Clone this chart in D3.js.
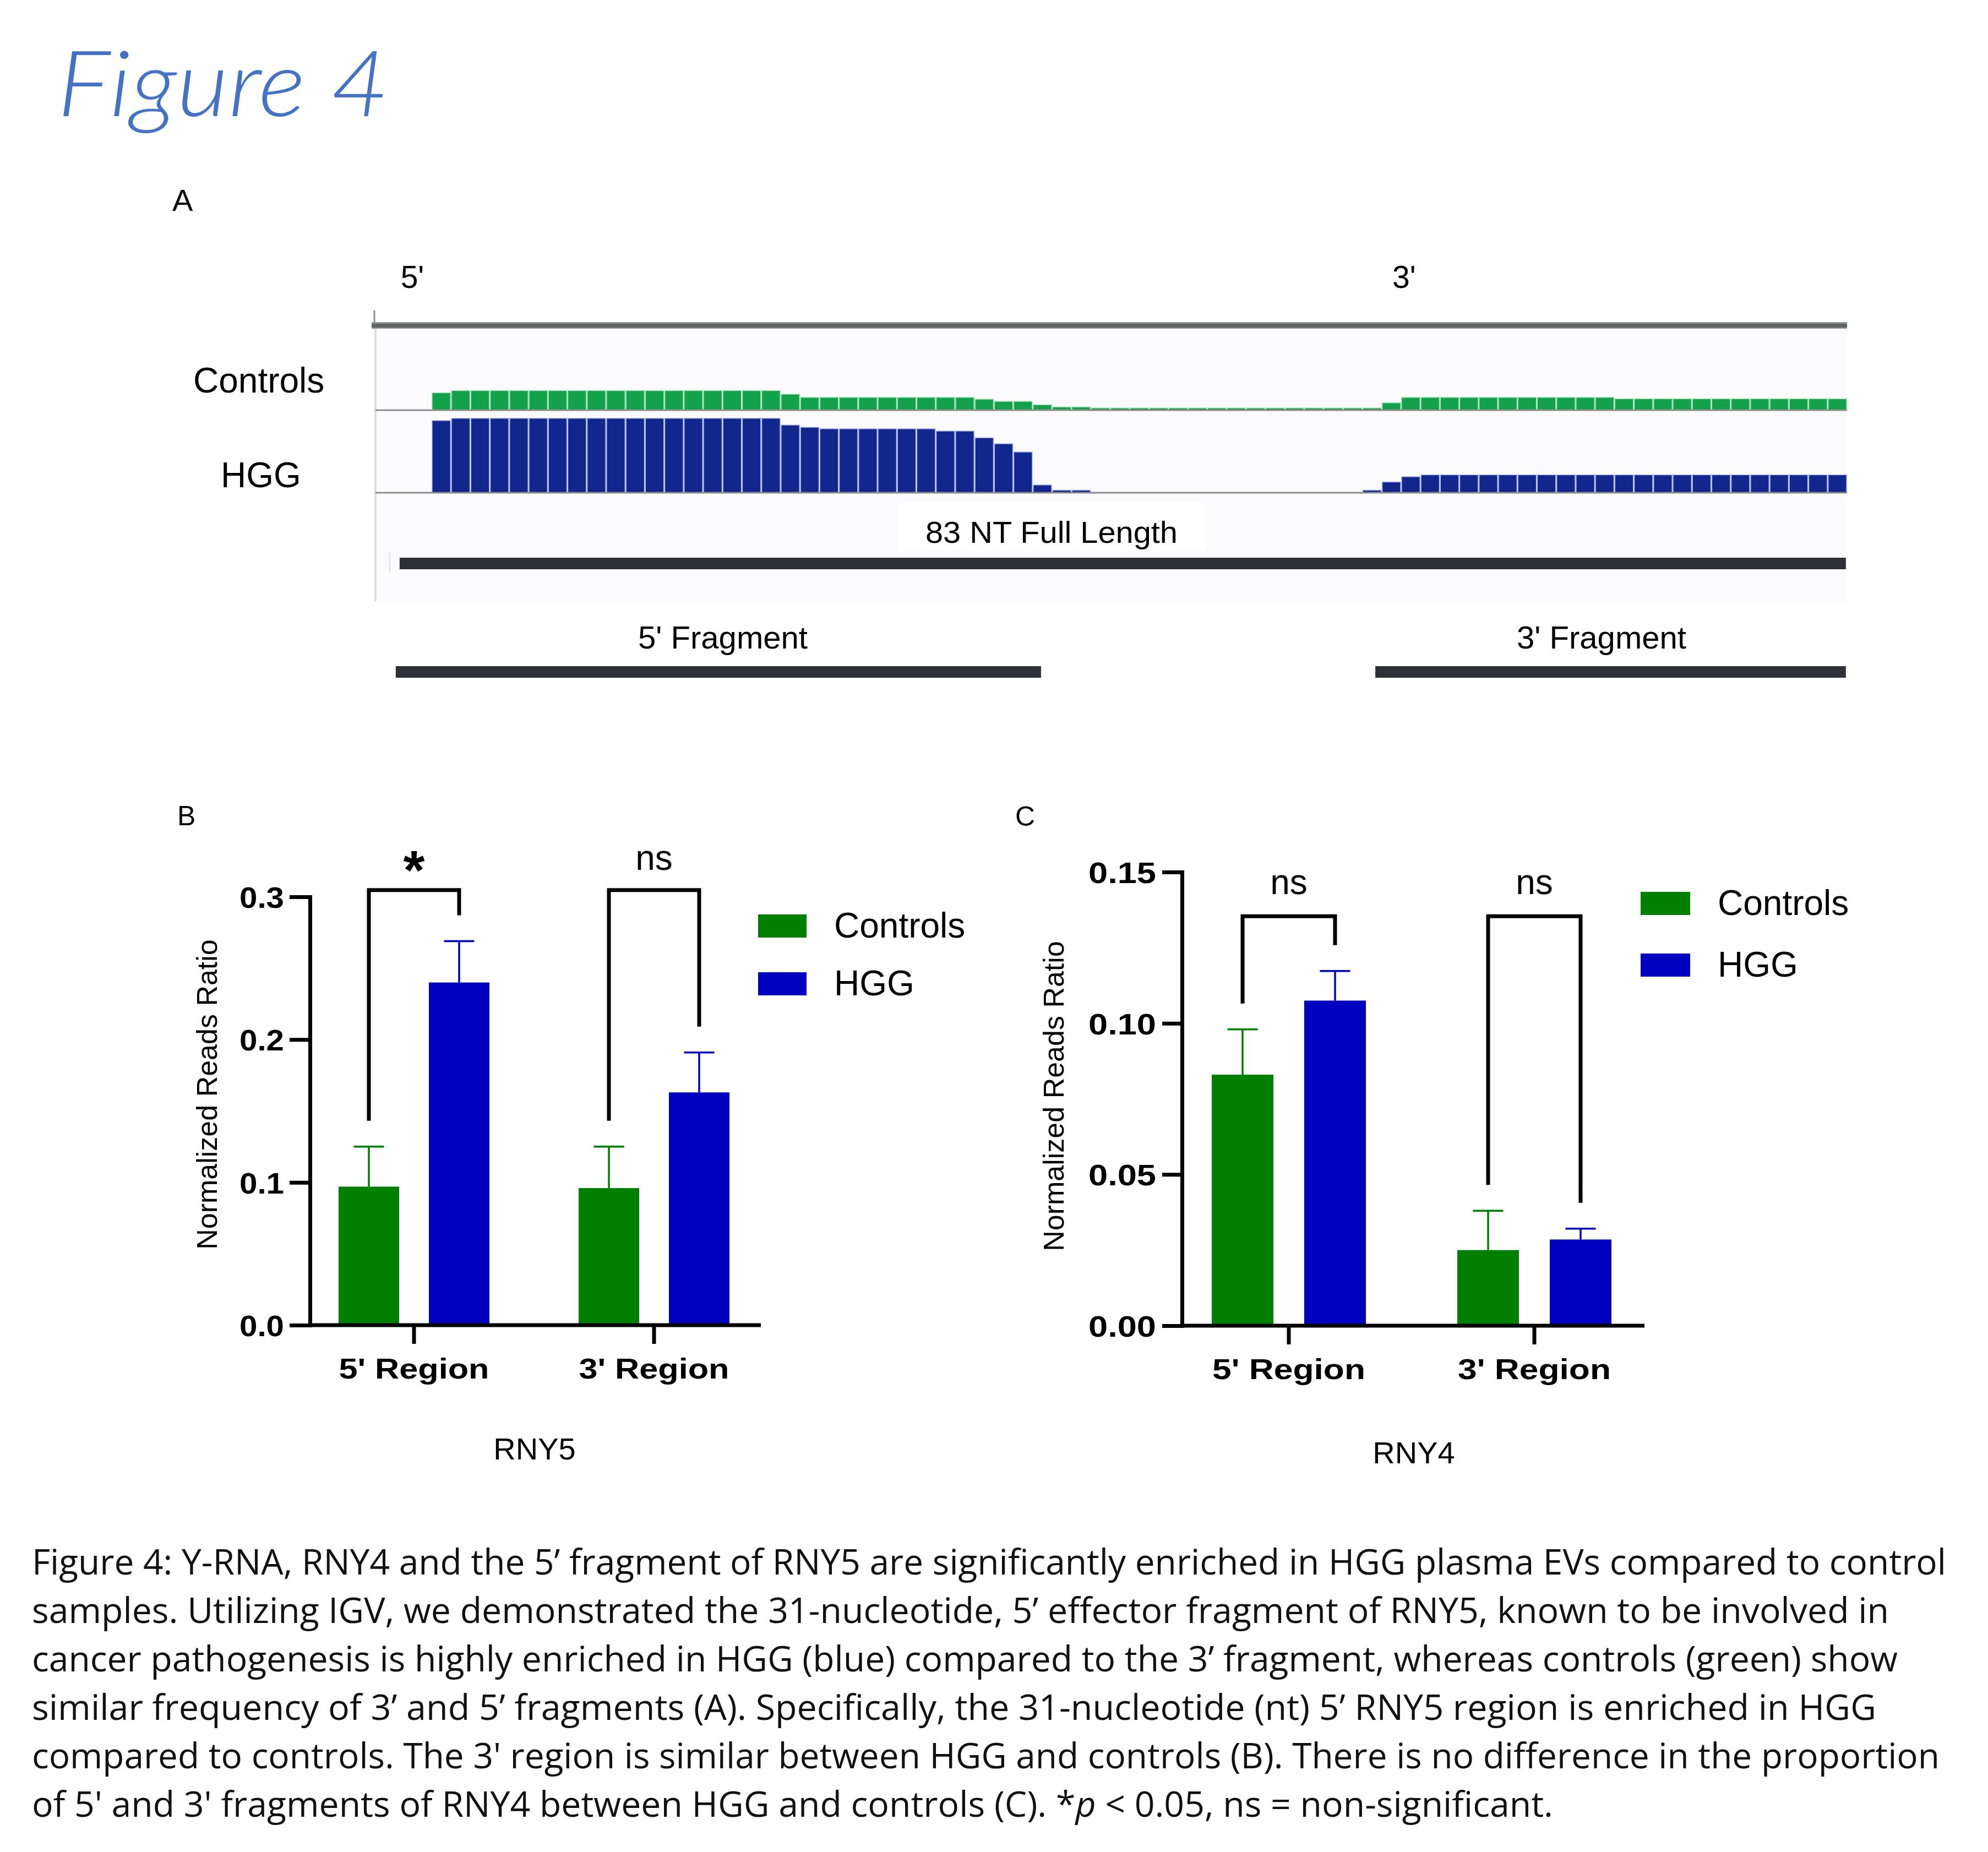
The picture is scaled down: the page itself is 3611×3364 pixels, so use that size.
<!DOCTYPE html>
<html><head><meta charset="utf-8">
<script src="https://cdn.jsdelivr.net/npm/d3@7"></script>
<style>body{margin:0;background:#fff}</style>
</head><body>
<svg id="fig" width="3611" height="3364" xmlns="http://www.w3.org/2000/svg"></svg>
<script>
// ---------------- DATA ----------------
// Panel A: IGV coverage (percent of track maximum), one value per position
const controlsCoverage = [89,100,100,100,100,100,100,100,100,100,100,100,100,100,100,100,100,100,82,66,
  66,66,66,66,66,66,66,66,57,46,46,29,18,18,13,13,13,13,13,13,
  13,13,13,13,13,13,13,13,13,39,66,66,66,66,66,66,66,66,66,66,
  66,59,59,59,59,59,59,59,59,59,59,59,59];
const hggCoverage = [97,100,100,100,100,100,100,100,100,100,100,100,100,100,100,100,100,100,91,88,
  86,86,86,86,86,86,83,83,74,66,55,11,4,4,0,0,0,0,0,0,
  0,0,0,0,0,0,0,0,4,15,22,24.5,24.5,24.5,24.5,24.5,24.5,24.5,24.5,24.5,
  24.5,24.5,24.5,24.5,24.5,24.5,24.5,24.5,24.5,24.5,24.5,24.5,24.5];
const trackNames = ["Controls", "HGG"];
// annotation features in coverage-position units [start, end]
const featureNames = ["83 NT Full Length", "5' Fragment", "3' Fragment"];
const featureStart = [-1.65, -1.85, 48.67];
const featureEnd = [72.94, 31.43, 72.94];
const endLabels = ["5'", "3'"];
const endLabelPos = [-1.6, 49.55];

// Panels B and C
const regions = ["5' Region", "3' Region"];
const groups = ["Controls", "HGG"];
const rny5Controls = [0.097, 0.096];
const rny5ControlsSem = [0.028, 0.029];
const rny5HGG = [0.240, 0.163];
const rny5HGGSem = [0.029, 0.028];
const rny5Sig = ["*", "ns"];
const rny5BracketLevel = 0.3047;
const rny5Ticks = [0, 0.1, 0.2, 0.3];

const rny4Controls = [0.083, 0.025];
const rny4ControlsSem = [0.015, 0.013];
const rny4HGG = [0.1075, 0.0285];
const rny4HGGSem = [0.0098, 0.0036];
const rny4Sig = ["ns", "ns"];
const rny4BracketLevel = 0.1354;
const rny4Ticks = [0, 0.05, 0.10, 0.15];

const captionLines = [
  "Figure 4: Y-RNA, RNY4 and the 5\u2019 fragment of RNY5 are significantly enriched in HGG plasma EVs compared to control",
  "samples. Utilizing IGV, we demonstrated the 31-nucleotide, 5\u2019 effector fragment of RNY5, known to be involved in",
  "cancer pathogenesis is highly enriched in HGG (blue) compared to the 3\u2019 fragment, whereas controls (green) show",
  "similar frequency of 3\u2019 and 5\u2019 fragments (A). Specifically, the 31-nucleotide (nt) 5\u2019 RNY5 region is enriched in HGG",
  "compared to controls. The 3' region is similar between HGG and controls (B). There is no difference in the proportion",
  "of 5' and 3' fragments of RNY4 between HGG and controls (C). "
];
const captionTail = ["*", "p", " < 0.05, ns = non-significant."];

// ---------------- DRAW ----------------
const svg = d3.select("#fig");
const SANS = "'Liberation Sans', Arial, Helvetica, sans-serif";
svg.append("rect").attr("width", 3611).attr("height", 3364).attr("fill", "#fff");

// Title
svg.append("text").text("Figure 4")
  .attr("x", 104).attr("y", 211)
  .attr("font-family", "Lato, 'Open Sans', sans-serif").attr("font-weight", 300)
  .attr("font-style", "italic").attr("font-size", 166).attr("fill", "#4472c4")
  .attr("textLength", 602).attr("lengthAdjust", "spacingAndGlyphs");

// Panel letters
[["A", 313, 383, 56], ["B", 322, 1499, 50], ["C", 1844, 1500, 50]].forEach(([t, x, y, s]) =>
  svg.append("text").text(t).attr("x", x).attr("y", y).attr("font-family", SANS)
    .attr("font-size", s).attr("fill", "#000"));

// ---------------- PANEL A ----------------
const gA = svg.append("g");
const pos = d3.scaleLinear().domain([0, controlsCoverage.length]).range([784, 3355]);
const yCtrl = d3.scaleLinear().domain([0, 100]).range([745, 708.7]);
const yHgg = d3.scaleLinear().domain([0, 100]).range([895, 759]);

const defs = svg.append("defs");
const grad = defs.append("linearGradient").attr("id", "ruler").attr("x1", 0).attr("x2", 0).attr("y1", 0).attr("y2", 1);
grad.append("stop").attr("offset", "0%").attr("stop-color", "#a3a7a6");
grad.append("stop").attr("offset", "40%").attr("stop-color", "#5c6261");
grad.append("stop").attr("offset", "70%").attr("stop-color", "#5c6261");
grad.append("stop").attr("offset", "100%").attr("stop-color", "#9fa3a2");

// panel background
gA.append("rect").attr("x", 682).attr("y", 600).attr("width", 3355 - 682).attr("height", 492).attr("fill", "#fbfbfd");
gA.append("rect").attr("x", 1632).attr("y", 913).attr("width", 560).attr("height", 87).attr("fill", "#fff");
gA.append("line").attr("x1", 682).attr("x2", 682).attr("y1", 597).attr("y2", 1092)
  .attr("stroke", "#d6d6d6").attr("stroke-width", 3);
gA.append("line").attr("x1", 680).attr("x2", 680).attr("y1", 564).attr("y2", 592)
  .attr("stroke", "#8c8c8c").attr("stroke-width", 3);
gA.append("rect").attr("x", 675).attr("y", 585).attr("width", 3355 - 675).attr("height", 12).attr("fill", "url(#ruler)");

// end labels
endLabels.forEach((t, i) => gA.append("text").text(t).attr("x", pos(endLabelPos[i])).attr("y", 523)
  .attr("font-family", SANS).attr("font-size", 57).attr("fill", "#000"));

// track labels
gA.append("text").text(trackNames[0]).attr("x", 351).attr("y", 713).attr("font-family", SANS).attr("font-size", 64);
gA.append("text").text(trackNames[1]).attr("x", 401).attr("y", 885).attr("font-family", SANS).attr("font-size", 64);

function coverage(data, y, dark, light) {
  const g = gA.append("g");
  const base = y(0);
  data.forEach((v, i) => {
    if (v <= 0) return;
    const x0 = pos(i), x1 = pos(i + 1);
    g.append("rect").attr("x", x0).attr("width", x1 - x0).attr("y", y(v)).attr("height", base - y(v)).attr("fill", light);
    g.append("rect").attr("x", x0 + 1.6).attr("width", x1 - x0 - 3.2).attr("y", y(v) + 1.5).attr("height", base - y(v) - 1.5).attr("fill", dark);
  });
  gA.append("line").attr("x1", 682).attr("x2", 3355).attr("y1", base).attr("y2", base)
    .attr("stroke", "#8d8d8d").attr("stroke-width", 3);
}
coverage(controlsCoverage, yCtrl, "#14a14b", "#a9e2b7");
coverage(hggCoverage, yHgg, "#12278e", "#b3bfee");

// features
const featureY = [1013, 1210, 1210];
featureNames.forEach((n, i) => {
  gA.append("rect").attr("x", pos(featureStart[i])).attr("width", pos(featureEnd[i]) - pos(featureStart[i]))
    .attr("y", featureY[i]).attr("height", 21).attr("fill", "#2e3037");
});
gA.append("line").attr("x1", 708).attr("x2", 708).attr("y1", 1005).attr("y2", 1039).attr("stroke", "#dedede").attr("stroke-width", 2);
gA.append("text").text(featureNames[0]).attr("x", 1681).attr("y", 986).attr("font-family", SANS)
  .attr("font-size", 56).attr("textLength", 458).attr("lengthAdjust", "spacingAndGlyphs");
gA.append("text").text(featureNames[1]).attr("x", 1159).attr("y", 1178).attr("font-family", SANS)
  .attr("font-size", 57).attr("textLength", 308).attr("lengthAdjust", "spacingAndGlyphs");
gA.append("text").text(featureNames[2]).attr("x", 2755).attr("y", 1178).attr("font-family", SANS)
  .attr("font-size", 57).attr("textLength", 308).attr("lengthAdjust", "spacingAndGlyphs");

// ---------------- PANELS B, C ----------------
const GREEN = "#007f00", BLUE = "#0000c0";
function barPanel(c) {
  const g = svg.append("g");
  const y = d3.scaleLinear().domain([0, c.ticks[c.ticks.length - 1]]).range([c.y0, c.yTop]);
  const x = d3.scaleBand().domain(regions).range(c.band).padding(0);
  const xi = d3.scaleBand().domain(groups).range([-c.groupHalf, c.groupHalf]).paddingInner(c.inner);
  const means = [c.ctrl, c.hgg], sems = [c.ctrlSem, c.hggSem], cols = [GREEN, BLUE];
  const cx = (r, k) => x(regions[r]) + x.bandwidth() / 2 + xi(groups[k]) + xi.bandwidth() / 2;

  // bars + error bars
  groups.forEach((grp, k) => {
    regions.forEach((reg, r) => {
      const v = means[k][r], e = sems[k][r];
      const left = x(reg) + x.bandwidth() / 2 + xi(grp);
      g.append("rect").attr("x", left).attr("width", xi.bandwidth())
        .attr("y", y(v)).attr("height", y(0) - y(v)).attr("fill", cols[k]);
      const xc = cx(r, k);
      g.append("line").attr("x1", xc).attr("x2", xc).attr("y1", y(v)).attr("y2", y(v + e))
        .attr("stroke", cols[k]).attr("stroke-width", 3.5);
      g.append("line").attr("x1", xc - 27.5).attr("x2", xc + 27.5).attr("y1", y(v + e)).attr("y2", y(v + e))
        .attr("stroke", cols[k]).attr("stroke-width", 3.5);
    });
  });

  // y axis
  const ya = g.append("g").attr("transform", `translate(${c.axisX},0)`)
    .call(d3.axisLeft(y).tickValues(c.ticks).tickFormat(d3.format(c.fmt))
      .tickSize(c.tickLen).tickSizeOuter(0).tickPadding(c.pad));
  ya.select(".domain").attr("stroke", "#000").attr("stroke-width", 7).attr("stroke-linecap", "square");
  ya.selectAll(".tick line").attr("stroke", "#000").attr("stroke-width", 7);
  ya.selectAll(".tick text").attr("font-family", SANS).attr("font-weight", "bold")
    .attr("font-size", 54).attr("fill", "#000").attr("dy", "0.36em")
    .attr("textLength", c.tickTextW).attr("lengthAdjust", "spacingAndGlyphs");

  // x axis
  g.append("line").attr("x1", c.axisX).attr("x2", c.xEnd).attr("y1", y(0)).attr("y2", y(0))
    .attr("stroke", "#000").attr("stroke-width", 7);
  const xa = g.append("g").attr("transform", `translate(0,${y(0)})`)
    .call(d3.axisBottom(x).tickSize(34).tickSizeOuter(0));
  xa.select(".domain").remove();
  xa.selectAll(".tick line").attr("stroke", "#000").attr("stroke-width", 7);
  xa.selectAll(".tick text").attr("y", 97).attr("dy", 0).attr("font-family", SANS).attr("font-weight", "bold")
    .attr("font-size", 52).attr("fill", "#000").attr("textLength", c.catW).attr("lengthAdjust", "spacingAndGlyphs");

  // significance brackets
  regions.forEach((reg, r) => {
    const xl = cx(r, 0), xr = cx(r, 1);
    const legL = y(means[0][r] + sems[0][r]) - 47;
    const legR = y(means[1][r] + sems[1][r]) - 47;
    const top = y(c.level);
    g.append("path").attr("d", `M${xl},${legL}V${top}H${xr}V${legR}`)
      .attr("fill", "none").attr("stroke", "#000").attr("stroke-width", 7);
    const lab = c.sig[r];
    const star = lab === "*";
    g.append("text").text(lab).attr("x", (xl + xr) / 2).attr("y", top + (star ? -2 : c.nsOff))
      .attr("text-anchor", "middle").attr("font-family", SANS)
      .attr("font-weight", star ? "bold" : "normal").attr("font-size", star ? 100 : 64);
  });

  // legend
  groups.forEach((grp, k) => {
    g.append("rect").attr("x", c.legX).attr("y", c.legY[k]).attr("width", c.legW).attr("height", 42).attr("fill", cols[k]);
    g.append("text").text(grp).attr("x", c.legTextX).attr("y", c.legY[k] + 42)
      .attr("font-family", SANS).attr("font-size", 64);
  });

  // y title
  g.append("text").text("Normalized Reads Ratio")
    .attr("transform", `translate(${c.titleX},${c.titleY}) rotate(-90)`)
    .attr("text-anchor", "middle").attr("font-family", SANS).attr("font-size", 52);
  // gene name
  g.append("text").text(c.gene).attr("x", c.geneX).attr("y", c.geneY)
    .attr("text-anchor", "middle").attr("font-family", SANS).attr("font-size", 56);
}

barPanel({
  ctrl: rny5Controls, ctrlSem: rny5ControlsSem, hgg: rny5HGG, hggSem: rny5HGGSem,
  sig: rny5Sig, level: rny5BracketLevel, ticks: rny5Ticks, fmt: ".1f",
  y0: 2407, yTop: 1629, axisX: 563, xEnd: 1382, band: [534, 1406], groupHalf: 137, inner: 0.329,
  tickLen: 37, pad: 10, tickTextW: 81, catW: 273, nsOff: -37,
  legX: 1377, legW: 88, legY: [1661, 1766], legTextX: 1515,
  titleX: 394, titleY: 1988, gene: "RNY5", geneX: 971, geneY: 2651
});
barPanel({
  ctrl: rny4Controls, ctrlSem: rny4ControlsSem, hgg: rny4HGG, hggSem: rny4HGGSem,
  sig: rny4Sig, level: rny4BracketLevel, ticks: rny4Ticks, fmt: ".2f",
  y0: 2408, yTop: 1584, axisX: 2147, xEnd: 2987, band: [2118, 3010], groupHalf: 140, inner: 0.333,
  tickLen: 36, pad: 11, tickTextW: 123, catW: 278, nsOff: -40,
  legX: 2980, legW: 90, legY: [1620, 1732], legTextX: 3120,
  titleX: 1932, titleY: 1991, gene: "RNY4", geneX: 2568, geneY: 2658
});

// ---------------- CAPTION ----------------
const capW = [3477, 3373, 3389, 3350, 3465, 2763];
const CAP = "'Open Sans', 'Noto Sans', sans-serif";
captionLines.forEach((line, i) => {
  const t = svg.append("text").attr("x", 58).attr("y", 2860 + i * 88)
    .attr("font-family", CAP).attr("font-size", 64).attr("fill", "#111")
    .attr("textLength", capW[i]).attr("lengthAdjust", "spacingAndGlyphs");
  t.append("tspan").text(line);
  if (i === captionLines.length - 1) {
    t.append("tspan").text(captionTail[0]);
    t.append("tspan").text(captionTail[1]).attr("font-style", "italic");
    t.append("tspan").text(captionTail[2]);
  }
});
</script>
</body></html>
